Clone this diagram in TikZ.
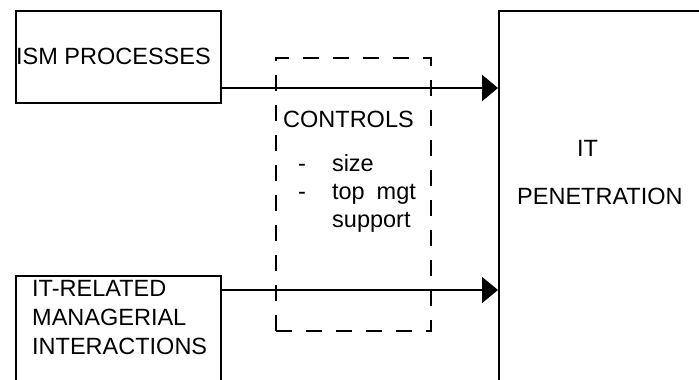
\documentclass[tikz,border=0pt]{standalone}
\usepackage{fontspec}
\setmainfont{Liberation Sans}
\usetikzlibrary{arrows.meta}
\begin{document}
\begin{tikzpicture}[x=1pt,y=-1pt,
  box/.style={draw, line width=1.8pt, inner sep=0pt, anchor=north west},
  txt/.style={inner sep=0pt, align=left, font=\fontsize{23.5}{29}\selectfont},
  ctl/.style={draw, dash pattern=on 16pt off 14pt, line width=1.6pt, inner sep=0pt, anchor=north west},
  tip/.style={-{Triangle[length=16pt,width=26pt]}}]
\useasboundingbox (0,0) rectangle (699,380);
\clip (0,0) rectangle (699,380);
% boxes
\node[box, minimum width=205pt, minimum height=92pt] (ism) at (15,10) {};
\node[box, minimum width=205pt, minimum height=140pt] (rel) at (15,275) {};
\node[box, minimum width=260pt, minimum height=400pt] (pen) at (498,10) {};
\node[ctl, minimum width=155pt, minimum height=273pt] (ctlbox) at (275,57) {};
% texts
\node[txt, anchor=west] (ismt) at ([xshift=1pt]ism.west) {ISM PROCESSES};
\node[txt, anchor=north west] (relt) at (32,280) {IT-RELATED\\MANAGERIAL\\INTERACTIONS};
\node[txt, anchor=north west, font=\fontsize{23.5}{28}\selectfont] (ctlt) at (283,111)
  {CONTROLS\\[16pt]\hspace*{15pt}-\hspace*{26pt}size\\\hspace*{15pt}-\hspace*{26pt}top\hspace*{12pt}mgt\\\hspace*{49pt}support};
\node[txt, anchor=north west, font=\fontsize{23.5}{48}\selectfont] (pent) at (517,140)
  {\hspace*{60pt}IT\\PENETRATION};
% connectors
\coordinate (y1) at (0,88);
\coordinate (y2) at (0,290);
\draw[tip, line width=2.6pt] (ism.east |- y1) -- (pen.west |- y1);
\draw[tip, line width=1.4pt] (rel.east |- y2) -- (pen.west |- y2);
\end{tikzpicture}
\end{document}
